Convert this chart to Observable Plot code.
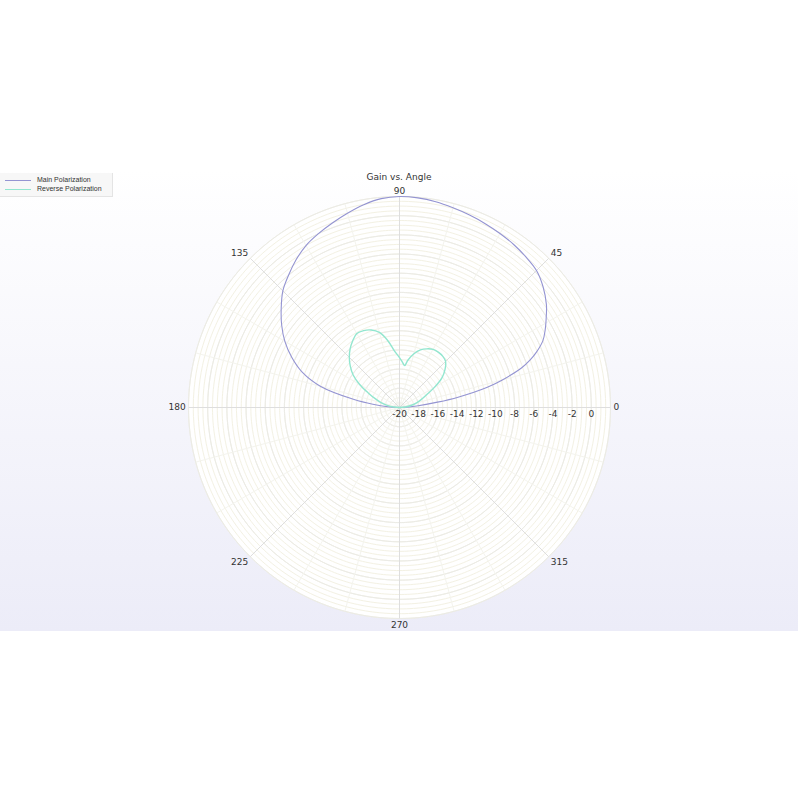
<!DOCTYPE html>
<html>
<head>
<meta charset="utf-8">
<script src="https://cdn.jsdelivr.net/npm/d3@7"></script>
<script src="https://cdn.jsdelivr.net/npm/@observablehq/plot@0.6"></script>
<style>
  body { margin: 0; background: #ffffff; }
  #wrap { position: relative; width: 800px; height: 800px; overflow: hidden; background: #ffffff; }
  #band { position: absolute; left: 0; top: 170px; width: 798px; height: 461px; background: linear-gradient(#ffffff, #ececf8); }
  #chart { position: absolute; left: 0; top: 170px; }
  #title { position: absolute; top: 172px; left: 0; width: 798px; text-align: center; font: 9px "DejaVu Sans", sans-serif; color: #333; }
  #legend { position: absolute; left: 0; top: 173px; width: 112px; height: 23px; background: #f7f7f7; border-right: 1px solid #e4e4e4; border-bottom: 1px solid #e4e4e4; font: 7px "Liberation Sans", Arial, sans-serif; color: #333; }
  .row { position: absolute; left: 5px; height: 9px; line-height: 9px; white-space: nowrap; }
  .swatch { display: inline-block; width: 26px; height: 0; vertical-align: middle; margin-right: 6px; }
</style>
</head>
<body>
<div id="wrap">
  <div id="band"></div>
  <div id="chart"></div>
  <div id="title">Gain vs. Angle</div>
  <div id="legend"></div>
</div>
<script>
// ---- data (angle in degrees, gain in dB) ----
const mainAngles = [0,3,5,8,10,13,15,18,20,22,25,28,32,35,40,45,50,55,60,65,70,75,80,85,90,95,100,105,110,115,120,125,130,135,140,145,150,155,160,165,170,173,176,180];
const mainGain = [-20,-19,-18.2,-16,-13.8,-10.6,-8.9,-6.6,-5.5,-4.6,-3.5,-2.8,-1.95,-1.3,-0.45,0.2,0.5,0.75,0.95,1.15,1.35,1.55,1.78,1.94,2.0,1.86,1.47,0.97,0.47,0.0,-0.5,-1.2,-2.0,-2.8,-3.9,-5.0,-6.2,-7.6,-9.2,-11.5,-15.2,-17.2,-18.8,-20];

const reverseAngles = [0,5,10,15,20,25,30,35,40,45,50,55,60,65,70,75,80,83,86,90,95,100,105,110,115,120,125,130,135,140,145,150,155,160,165,170,175,180];
const reverseGain = [-20,-19.4,-18.8,-18.2,-17.6,-16.9,-15.8,-14.6,-13.8,-13.2,-13.0,-12.95,-13.0,-13.25,-13.6,-14.2,-15.0,-15.6,-15.3,-14.8,-14.1,-12.9,-11.9,-11.4,-11.15,-11.1,-11.5,-12.0,-12.6,-13.3,-14.1,-15.2,-16.4,-17.3,-18.0,-18.7,-19.4,-20];

const seriesNames = ["Main Polarization", "Reverse Polarization"];
const seriesColors = ["#9494d2", "#92e6cf"];

const radialTicks = [-20,-18,-16,-14,-12,-10,-8,-6,-4,-2,0];
const angleTicks = [0,45,90,135,180,225,270,315];
const rMin = -20, rMax = 2;

// ---- helpers: polar -> (longitude, latitude) for an azimuthal projection centred on the pole
const lon = a => a + 90;
const lat = g => 90 - (g - rMin);
const R = rMax - rMin;
const circle = r => d3.geoCircle().center([0, 90]).radius(r).precision(1)();

const mainData = mainAngles.map((a, i) => ({angle: a, gain: mainGain[i]}));
const reverseData = reverseAngles.map((a, i) => ({angle: a, gain: reverseGain[i]}));

const minorRadii = d3.range(0.5, R + 0.01, 0.5);
const majorRadii = d3.range(2, R + 0.01, 2);
const minorSpokes = d3.range(0, 360, 15);

const labelMark = (angles, textAnchor, lineAnchor) =>
  Plot.text(angles, {
    x: a => lon(a), y: () => lat(rMin + R + 0.3), text: a => String(a),
    textAnchor, lineAnchor, fill: "#333", fontSize: 9
  });

const chart = Plot.plot({
  width: 798,
  height: 461,
  marginTop: 26,
  marginBottom: 13,
  marginLeft: 188,
  marginRight: 188,
  style: {background: "transparent", fontFamily: "DejaVu Sans, sans-serif", fontSize: "9px"},
  projection: {
    type: "azimuthal-equidistant",
    rotate: [0, -90],
    domain: circle(R),
    inset: 0,
    clip: false
  },
  marks: [
    Plot.geo([circle(R)], {fill: "#ffffff", stroke: "none"}),
    Plot.geo(minorRadii.map(circle), {stroke: "#f3f1e3", strokeWidth: 1, fill: "none"}),
    Plot.geo(majorRadii.map(circle), {stroke: "#ebebe6", strokeWidth: 1, fill: "none"}),
    Plot.link(minorSpokes, {x1: a => lon(a), y1: 90, x2: a => lon(a), y2: lat(rMax), stroke: "#f4f4ee", strokeWidth: 1}),
    Plot.link(angleTicks, {x1: a => lon(a), y1: 90, x2: a => lon(a), y2: lat(rMax), stroke: "#dedede", strokeWidth: 1}),
    Plot.line(mainData, {x: d => lon(d.angle), y: d => lat(d.gain), stroke: seriesColors[0], strokeWidth: 1.1, curve: "catmull-rom"}),
    Plot.line(reverseData, {x: d => lon(d.angle), y: d => lat(d.gain), stroke: seriesColors[1], strokeWidth: 1.4, curve: "catmull-rom"}),
    Plot.text(radialTicks, {x: () => lon(0), y: v => lat(v), text: v => String(v), dy: 7, fill: "#333", fontSize: 9}),
    labelMark([0], "start", "middle"),
    labelMark([45], "start", "bottom"),
    labelMark([90], "middle", "bottom"),
    labelMark([135], "end", "bottom"),
    labelMark([180], "end", "middle"),
    labelMark([225], "end", "top"),
    labelMark([270], "middle", "top"),
    labelMark([315], "start", "top")
  ]
});
document.getElementById("chart").append(chart);

// legend
const legend = document.getElementById("legend");
seriesNames.forEach((name, i) => {
  const row = document.createElement("div");
  row.className = "row";
  row.style.top = (2 + i * 9) + "px";
  const sw = document.createElement("span");
  sw.className = "swatch";
  sw.style.borderTop = `1px solid ${seriesColors[i]}`;
  row.append(sw, document.createTextNode(name));
  legend.append(row);
});
</script>
</body>
</html>
